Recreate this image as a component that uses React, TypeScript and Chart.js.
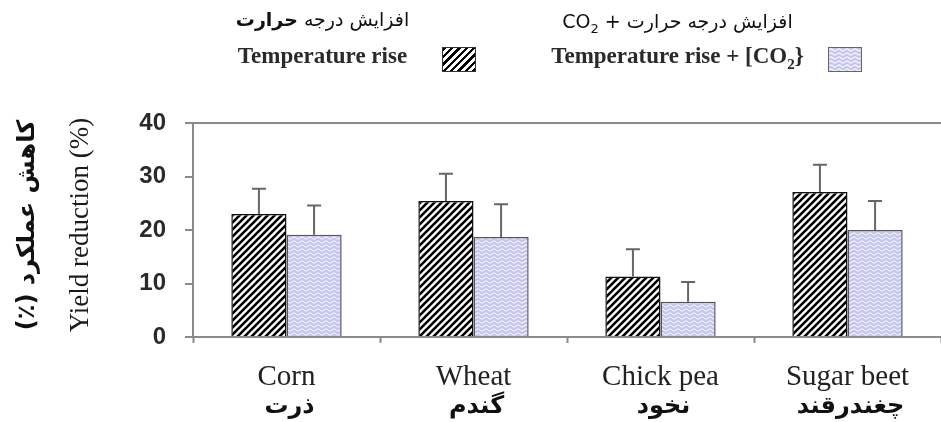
import React, { useEffect, useRef } from "react";
import { Chart, registerables } from "chart.js";

Chart.register(...registerables);

// ---- data ----
const categories = ["Corn", "Wheat", "Chick pea", "Sugar beet"];
const categoriesFa = ["ذرت", "گندم", "نخود", "چغندرقند"];
const tempRise = [23.0, 25.4, 11.3, 27.1];
const tempRiseErr = [4.7, 5.1, 5.1, 5.1];
const tempCo2 = [19.1, 18.7, 6.6, 20.0];
const tempCo2Err = [5.5, 6.1, 3.7, 5.4];
const yMin = 0;
const yMax = 40;
const yStep = 10;

function makeHatch(ctx: CanvasRenderingContext2D) {
  const c = document.createElement("canvas");
  c.width = 7;
  c.height = 7;
  const g = c.getContext("2d")!;
  g.fillStyle = "#ffffff";
  g.fillRect(0, 0, 7, 7);
  g.strokeStyle = "#000000";
  g.lineWidth = 2.6;
  g.beginPath();
  g.moveTo(-2, 9);
  g.lineTo(9, -2);
  g.moveTo(-2, 2);
  g.lineTo(2, -2);
  g.moveTo(5, 9);
  g.lineTo(9, 5);
  g.stroke();
  return ctx.createPattern(c, "repeat")!;
}

function makeWave(ctx: CanvasRenderingContext2D) {
  const c = document.createElement("canvas");
  c.width = 8;
  c.height = 4;
  const g = c.getContext("2d")!;
  g.fillStyle = "#c4c4ee";
  g.fillRect(0, 0, 8, 4);
  g.strokeStyle = "#f4f4ff";
  g.lineWidth = 1.2;
  g.beginPath();
  for (let x = 0; x <= 8; x += 0.5) {
    const y = 2 + Math.sin((x / 8) * 2 * Math.PI);
    if (x === 0) g.moveTo(x, y);
    else g.lineTo(x, y);
  }
  g.stroke();
  return ctx.createPattern(c, "repeat")!;
}

const errs = [tempRiseErr, tempCo2Err];

const errorBarsPlugin = {
  id: "errorBars",
  afterDatasetsDraw(chart: any) {
    const ctx = chart.ctx;
    const y = chart.scales.y;
    chart.data.datasets.forEach((ds: any, i: number) => {
      const meta = chart.getDatasetMeta(i);
      meta.data.forEach((bar: any, j: number) => {
        const v = ds.data[j];
        const top = y.getPixelForValue(v + errs[i][j]);
        ctx.save();
        ctx.strokeStyle = "#666";
        ctx.lineWidth = 2;
        ctx.beginPath();
        ctx.moveTo(bar.x, bar.y);
        ctx.lineTo(bar.x, top);
        ctx.moveTo(bar.x - 7, top);
        ctx.lineTo(bar.x + 7, top);
        ctx.stroke();
        ctx.restore();
      });
    });
  },
};

const faLabelsPlugin = {
  id: "faLabels",
  afterDraw(chart: any) {
    const ctx = chart.ctx;
    const x = chart.scales.x;
    ctx.save();
    ctx.font = 'bold 24px "DejaVu Sans"';
    ctx.fillStyle = "#111";
    ctx.textAlign = "center";
    ctx.textBaseline = "middle";
    categoriesFa.forEach((t, i) => {
      ctx.fillText(t, x.getPixelForValue(i) + 3, x.top + 70);
    });
    ctx.restore();
  },
};

const hatchCss =
  "repeating-linear-gradient(135deg, #000 0px, #000 2.4px, #fff 2.4px, #fff 5.2px)";
const waveSvg =
  "url(\"data:image/svg+xml;utf8,<svg xmlns='http://www.w3.org/2000/svg' width='8' height='4'><rect width='8' height='4' fill='%23c4c4ee'/><path d='M0 2 Q2 0 4 2 T8 2' fill='none' stroke='%23f4f4ff' stroke-width='1.2'/></svg>\")";

export default function App() {
  const ref = useRef<HTMLCanvasElement | null>(null);

  useEffect(() => {
    const canvas = ref.current!;
    const ctx = canvas.getContext("2d")!;
    const chart = new Chart(canvas, {
      type: "bar",
      data: {
        labels: categories,
        datasets: [
          {
            label: "Temperature rise",
            data: tempRise,
            backgroundColor: makeHatch(ctx),
            borderColor: "#111",
            borderWidth: 1.5,
            categoryPercentage: 0.59,
            barPercentage: 1.0,
          },
          {
            label: "Temperature rise + [CO2]",
            data: tempCo2,
            backgroundColor: makeWave(ctx),
            borderColor: "#555",
            borderWidth: 1.5,
            categoryPercentage: 0.59,
            barPercentage: 1.0,
          },
        ],
      },
      options: {
        responsive: false,
        animation: false,
        devicePixelRatio: 1,
        layout: { padding: { top: 123, left: 0, right: 0, bottom: 0 } },
        plugins: {
          legend: { display: false },
          tooltip: { enabled: false },
        },
        scales: {
          x: {
            offset: true,
            grid: {
              offset: true,
              drawOnChartArea: false,
              drawTicks: true,
              tickLength: 6,
              tickColor: "#8a8a8a",
              tickWidth: 2,
            },
            border: { display: true, color: "#8a8a8a", width: 2 },
            ticks: {
              color: "#222",
              padding: 17,
              font: { family: '"Liberation Serif"', size: 29 },
            },
            afterFit: (axis: any) => {
              axis.height = 85;
            },
          },
          y: {
            min: yMin,
            max: yMax,
            ticks: {
              stepSize: yStep,
              color: "#2a2a2a",
              padding: 19,
              font: { family: '"Liberation Sans"', size: 24, weight: "bold" },
            },
            grid: {
              color: (c: any) =>
                c.tick && c.tick.value === yMax ? "#8a8a8a" : "rgba(0,0,0,0)",
              lineWidth: 2,
              tickColor: "#8a8a8a",
              tickLength: 8,
              tickWidth: 2,
            },
            border: { display: true, color: "#8a8a8a", width: 2 },
            afterFit: (axis: any) => {
              axis.width = 193;
            },
          },
        },
      } as any,
      plugins: [errorBarsPlugin, faLabelsPlugin],
    });
    return () => chart.destroy();
  }, []);

  const abs: React.CSSProperties = { position: "absolute", whiteSpace: "nowrap" };

  return (
    <div
      style={{
        position: "absolute",
        left: 0,
        top: 0,
        width: 941,
        height: 422,
        background: "#fff",
        overflow: "hidden",
      }}
    >
      <canvas ref={ref} width={941} height={422} style={{ position: "absolute", left: 0, top: 0 }} />

      {/* legend headers (Persian) */}
      <div
        dir="rtl"
        style={{
          ...abs,
          left: 235,
          width: 175,
          top: 8,
          textAlign: "center",
          font: '19px "DejaVu Sans"',
          color: "#111",
        }}
      >
        افزایش درجه <b>حرارت</b>
      </div>
      <div
        dir="rtl"
        style={{
          ...abs,
          left: 555,
          width: 245,
          top: 10,
          textAlign: "center",
          font: '19px "DejaVu Sans"',
          color: "#111",
        }}
      >
        افزایش درجه حرارت + CO<sub style={{ fontSize: 13 }}>2</sub>
      </div>

      {/* legend entries */}
      <div
        style={{
          ...abs,
          left: 230,
          width: 185,
          top: 43,
          textAlign: "center",
          font: 'bold 23px "Liberation Serif"',
          color: "#2a2a2a",
        }}
      >
        Temperature rise
      </div>
      <div
        style={{
          ...abs,
          left: 442,
          top: 47,
          width: 34,
          height: 25,
          border: "1.5px solid #333",
          boxSizing: "border-box",
          background: hatchCss,
        }}
      />
      <div
        style={{
          ...abs,
          left: 540,
          width: 275,
          top: 43,
          textAlign: "center",
          font: 'bold 23px "Liberation Serif"',
          color: "#2a2a2a",
        }}
      >
        {"Temperature rise + [CO"}
        <sub style={{ fontSize: 15, lineHeight: 0 }}>2</sub>
        {"}"}
      </div>
      <div
        style={{
          ...abs,
          left: 828,
          top: 47,
          width: 34,
          height: 25,
          border: "1.5px solid #666",
          boxSizing: "border-box",
          backgroundImage: waveSvg,
        }}
      />

      {/* y-axis titles */}
      <div
        dir="rtl"
        style={{
          ...abs,
          left: 26,
          top: 225,
          transform: "translate(-50%, -50%) rotate(-90deg)",
          font: 'bold 24px "DejaVu Sans"',
          color: "#111",
        }}
      >
        کاهش عملکرد (٪)
      </div>
      <div
        style={{
          ...abs,
          left: 79,
          top: 225,
          transform: "translate(-50%, -50%) rotate(-90deg)",
          font: '27px "Liberation Serif"',
          color: "#1a1a1a",
        }}
      >
        Yield reduction (%)
      </div>
    </div>
  );
}
